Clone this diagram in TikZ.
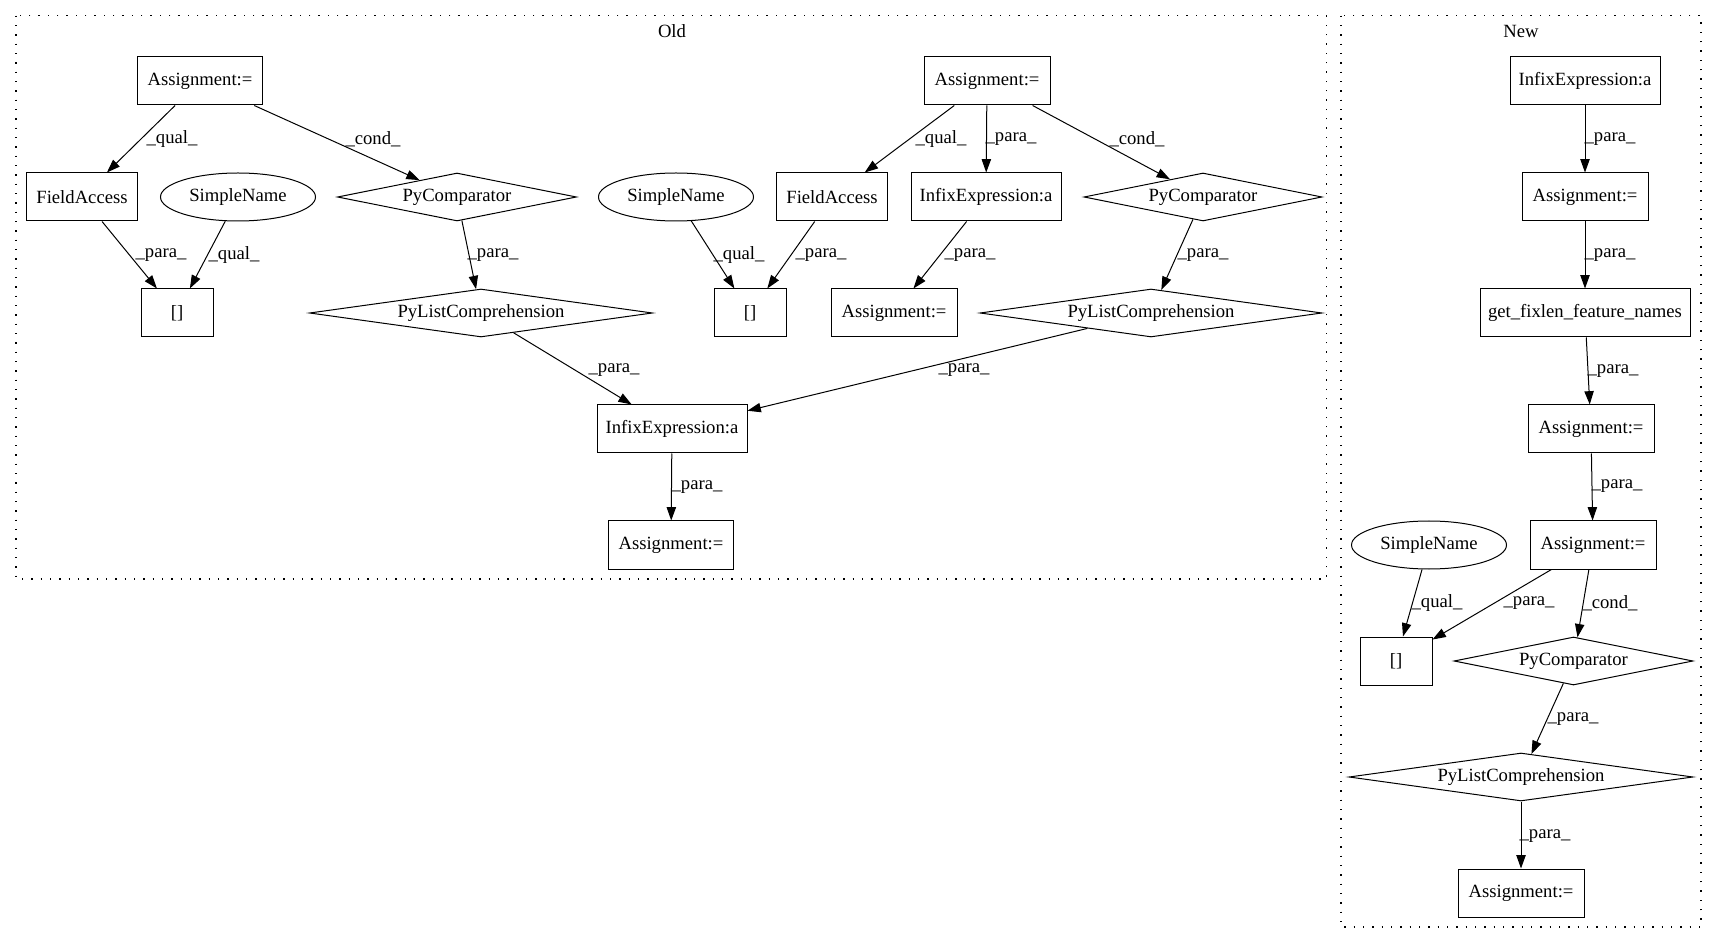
\documentclass[tikz,border=0pt]{standalone}
\usepackage{fontspec}
\setmainfont{Liberation Serif}
\usetikzlibrary{shapes.geometric,arrows.meta}
\begin{document}
\begin{tikzpicture}[x=0.75pt,y=-0.75pt,
  base/.style={draw,line width=0.75pt,inner sep=0pt,minimum height=36pt,font=\fontsize{14pt}{16pt}\selectfont},
  box/.style={base,rectangle},
  ell/.style={base,ellipse,minimum width=116.25pt},
  dia/.style={base,diamond,shape aspect=6},
  edge/.style={draw,line width=0.75pt,-{Triangle[length=10pt,width=7pt]}},
  lbl/.style={font=\fontsize{14pt}{16pt}\selectfont,inner sep=0pt},
  clus/.style={draw,line width=1pt,dash pattern=on 1pt off 6pt}]
\useasboundingbox (0,0) rectangle (1717,944);
% clusters
\draw[clus] (16,15.7) rectangle (1326.5,579);
\draw[clus] (1341,15.7) rectangle (1701,927);
\node[lbl] (lold) at (672,31) {Old};
\node[lbl] (lnew) at (1521,31) {New};
% Old nodes
\node[box,minimum width=93.75pt] (A1) at (200,81) {Assignment:=};
\node[box,minimum width=83.25pt] (FA1) at (82,197) {FieldAccess};
\node[ell] (SN1) at (238,197) {SimpleName};
\node[dia,minimum width=179.25pt] (PC1) at (457,197) {PyComparator};
\node[box,minimum width=54pt] (B1) at (177,313) {[]};
\node[dia,minimum width=257.25pt] (PLC1) at (481,313) {PyListComprehension};
\node[box,minimum width=94.5pt] (A2) at (987,81) {Assignment:=};
\node[ell] (SN2) at (676,197) {SimpleName};
\node[box,minimum width=83.25pt] (FA2) at (832,197) {FieldAccess};
\node[box,minimum width=112.5pt] (IE2) at (986,197) {InfixExpression:a};
\node[dia,minimum width=178.5pt] (PC2) at (1203,197) {PyComparator};
\node[box,minimum width=54pt] (B2) at (750,313) {[]};
\node[box,minimum width=94.5pt] (A3) at (894,313) {Assignment:=};
\node[dia,minimum width=256.5pt] (PLC2) at (1151,313) {PyListComprehension};
\node[box,minimum width=112.5pt] (IE1) at (672,429) {InfixExpression:a};
\node[box,minimum width=93.75pt] (A4) at (671,545) {Assignment:=};
% New nodes
\node[box,minimum width=112.5pt] (IEN) at (1585,81) {InfixExpression:a};
\node[box,minimum width=94.5pt] (AN1) at (1585,197) {Assignment:=};
\node[box,minimum width=157.5pt] (GF) at (1585,313) {get\_fixlen\_feature\_names};
\node[box,minimum width=94.5pt] (AN2) at (1591,429) {Assignment:=};
\node[box,minimum width=94.5pt] (AN3) at (1593,545) {Assignment:=};
\node[ell] (SNN) at (1429,545) {SimpleName};
\node[box,minimum width=54pt] (BN) at (1396,661) {[]};
\node[dia,minimum width=179.25pt] (PCN) at (1573.5,661) {PyComparator};
\node[dia,minimum width=258pt] (PLCN) at (1521,777) {PyListComprehension};
\node[box,minimum width=94.5pt] (AN4) at (1521,893) {Assignment:=};
% Old edges
\draw[edge] (A1) -- (FA1);
\draw[edge] (A1) -- (PC1);
\draw[edge] (FA1) -- (B1);
\draw[edge] (SN1) -- (B1);
\draw[edge] (PC1) -- (PLC1);
\draw[edge] (PLC1) -- (IE1);
\draw[edge] (A2) -- (FA2);
\draw[edge] (A2) -- (IE2);
\draw[edge] (A2) -- (PC2);
\draw[edge] (SN2) -- (B2);
\draw[edge] (FA2) -- (B2);
\draw[edge] (IE2) -- (A3);
\draw[edge] (PC2) -- (PLC2);
\draw[edge] (PLC2) -- (IE1);
\draw[edge] (IE1) -- (A4);
% New edges
\draw[edge] (IEN) -- (AN1);
\draw[edge] (AN1) -- (GF);
\draw[edge] (GF) -- (AN2);
\draw[edge] (AN2) -- (AN3);
\draw[edge] (SNN) -- (BN);
\draw[edge] (AN3) -- (BN);
\draw[edge] (AN3) -- (PCN);
\draw[edge] (PCN) -- (PLCN);
\draw[edge] (PLCN) -- (AN4);
% labels
\node[lbl] (l1) at (172,139) {\_qual\_};
\node[lbl] (l2) at (373,139) {\_cond\_};
\node[lbl] (l3) at (161,255) {\_para\_};
\node[lbl] (l4) at (234,255) {\_qual\_};
\node[lbl] (l5) at (493,255) {\_para\_};
\node[lbl] (l6) at (614,370) {\_para\_};
\node[lbl] (l7) at (941,139) {\_qual\_};
\node[lbl] (l8) at (1011,139) {\_para\_};
\node[lbl] (l9) at (1137,139) {\_cond\_};
\node[lbl] (l10) at (739,255) {\_qual\_};
\node[lbl] (l11) at (821,255) {\_para\_};
\node[lbl] (l12) at (970,255) {\_para\_};
\node[lbl] (l13) at (1203,255) {\_para\_};
\node[lbl] (l14) at (964,370) {\_para\_};
\node[lbl] (l15) at (697,487) {\_para\_};
\node[lbl] (l16) at (1610,139) {\_para\_};
\node[lbl] (l17) at (1610,255) {\_para\_};
\node[lbl] (l18) at (1613,371) {\_para\_};
\node[lbl] (l19) at (1617,486) {\_para\_};
\node[lbl] (l20) at (1437,603) {\_qual\_};
\node[lbl] (l21) at (1529,603) {\_para\_};
\node[lbl] (l22) at (1610,603) {\_cond\_};
\node[lbl] (l23) at (1573,719) {\_para\_};
\node[lbl] (l24) at (1545,836) {\_para\_};
\end{tikzpicture}
\end{document}
